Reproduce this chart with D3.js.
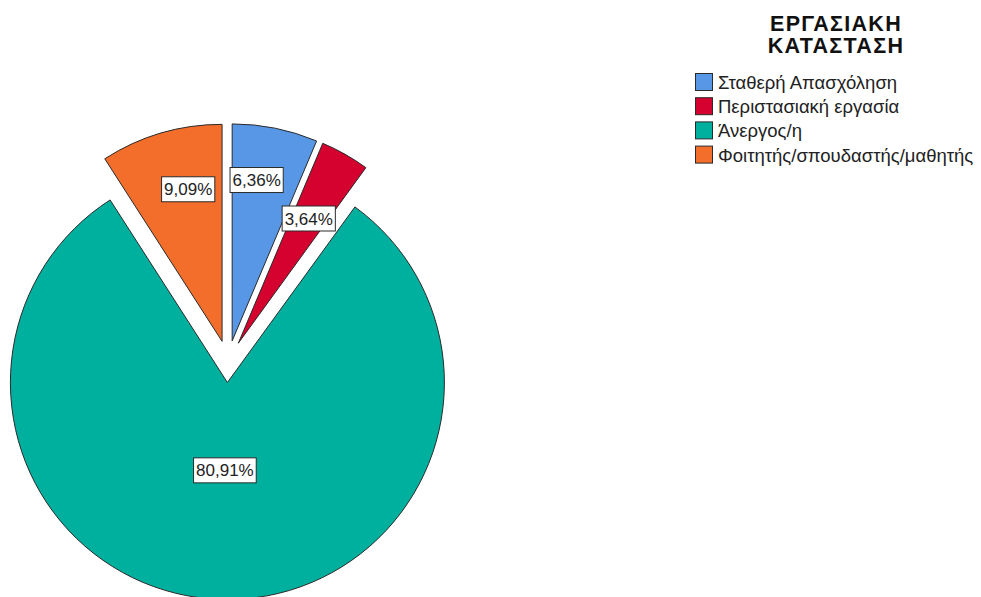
<!DOCTYPE html>
<html>
<head>
<meta charset="utf-8">
<script src="https://cdn.jsdelivr.net/npm/d3@7"></script>
<style>
  html, body { margin: 0; padding: 0; background: #fff; }
  svg { display: block; }
  text { font-family: "Liberation Sans", Arial, sans-serif; }
</style>
</head>
<body>
<svg id="chart" width="981" height="597"></svg>
<script>
// ---- data ----
const categories = ["Σταθερή Απασχόληση", "Περιστασιακή εργασία", "Άνεργος/η", "Φοιτητής/σπουδαστής/μαθητής"];
const percents = [6.36, 3.64, 80.91, 9.09];
const percentLabels = ["6,36%", "3,64%", "80,91%", "9,09%"];
const legendTitle = ["ΕΡΓΑΣΙΑΚΗ", "ΚΑΤΑΣΤΑΣΗ"];
const colors = ["#5797E6", "#D5012F", "#00B09F", "#F36E2B"];

// ---- layout ----
const cx = 228, cy = 361.5, R = 217, explode = 21;
// label placement (fraction of radius from slice apex, angle nudge in degrees)
const labelFrac = [0.75, 0.66, 0.405, 0.718];
const labelNudge = [-2.8, 0, 0, 3.8];

const svg = d3.select("#chart");
const data = categories.map((c, i) => ({ name: c, value: percents[i], label: percentLabels[i], color: colors[i] }));

const pie = d3.pie().sort(null).value(d => d.value);
const arcs = pie(data);
const arc = d3.arc().innerRadius(0).outerRadius(R);

const g = svg.append("g").attr("transform", `translate(${cx},${cy})`);

const slices = g.selectAll("g.slice").data(arcs).join("g")
  .attr("class", "slice")
  .attr("transform", d => {
    const m = (d.startAngle + d.endAngle) / 2;
    return `translate(${explode * Math.sin(m)},${-explode * Math.cos(m)})`;
  });

slices.append("path")
  .attr("d", arc)
  .attr("fill", d => d.data.color)
  .attr("stroke", "#2a2a2a")
  .attr("stroke-width", 1)
  .attr("stroke-linejoin", "miter");

// labels
slices.each(function (d, i) {
  const m = (d.startAngle + d.endAngle) / 2 + labelNudge[i] * Math.PI / 180;
  const r = labelFrac[i] * R;
  const x = r * Math.sin(m), y = -r * Math.cos(m);
  const lg = d3.select(this).append("g").attr("transform", `translate(${x},${y})`);
  const t = lg.append("text")
    .attr("text-anchor", "middle")
    .attr("dy", "0.36em")
    .attr("font-size", 17)
    .attr("fill", "#222")
    .text(d.data.label);
  const bb = t.node().getBBox();
  lg.insert("rect", "text")
    .attr("x", bb.x - 2.5)
    .attr("y", -12.5)
    .attr("width", bb.width + 5)
    .attr("height", 25)
    .attr("fill", "#fff")
    .attr("stroke", "#2a2a2a")
    .attr("stroke-width", 1);
});

// ---- legend ----
const legX = 695, legY = 73, rowH = 24.2, sw = 17;
const leg = svg.append("g");
const titleCenter = 836;
leg.selectAll("text.title").data(legendTitle).join("text")
  .attr("class", "title")
  .attr("x", titleCenter)
  .attr("y", (d, i) => 30.5 + i * 22.5)
  .attr("text-anchor", "middle")
  .attr("font-weight", "bold")
  .attr("font-size", 21.5)
  .attr("letter-spacing", 1.3)
  .attr("fill", "#111")
  .text(d => d);

const items = leg.selectAll("g.item").data(data).join("g")
  .attr("class", "item")
  .attr("transform", (d, i) => `translate(${legX},${legY + i * rowH})`);
items.append("rect")
  .attr("x", 0.5).attr("y", 0.5)
  .attr("width", sw).attr("height", sw)
  .attr("fill", d => d.color)
  .attr("stroke", "#2a2a2a")
  .attr("stroke-width", 1);
items.append("text")
  .attr("x", 23)
  .attr("y", 16)
  .attr("font-size", 18.5)
  .attr("fill", "#222")
  .text(d => d.name);
</script>
</body>
</html>
